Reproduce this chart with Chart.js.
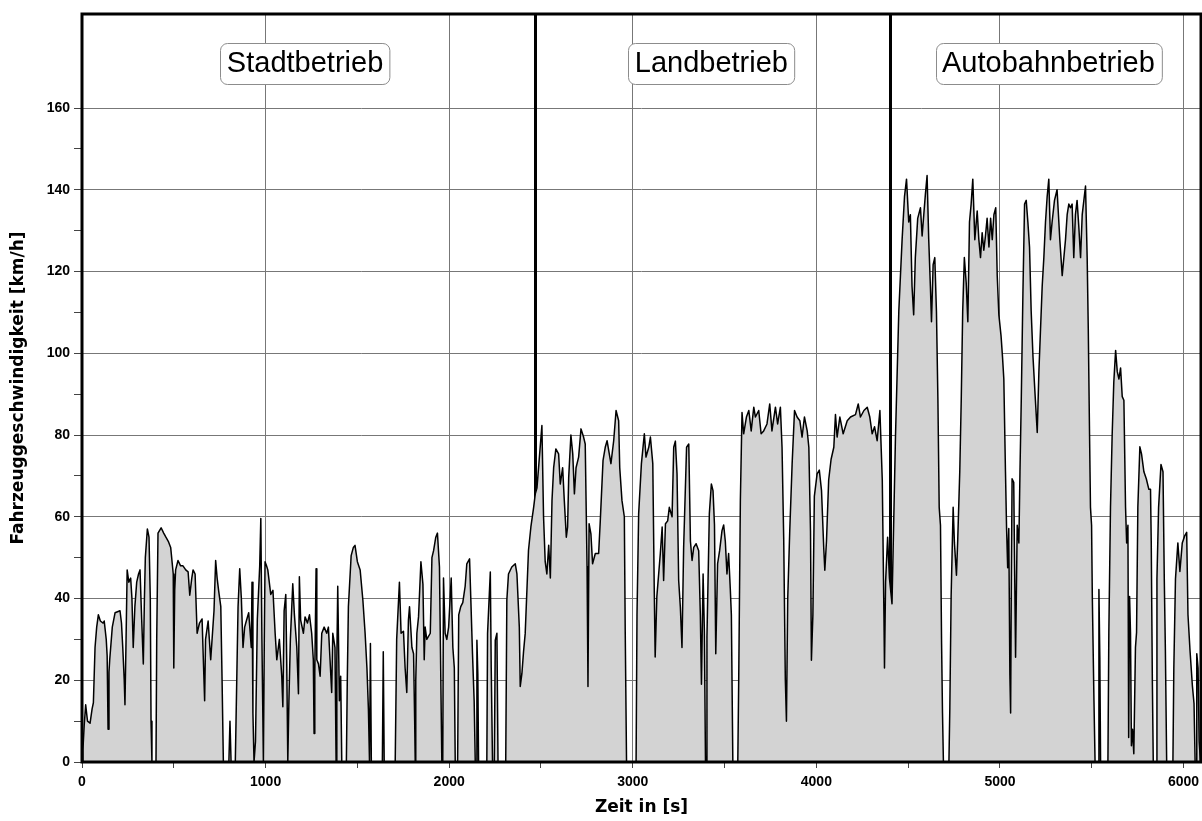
<!DOCTYPE html>
<html>
<head>
<meta charset="utf-8">
<script src="https://cdn.jsdelivr.net/npm/chart.js@4.4.0/dist/chart.umd.min.js"></script>
<style>
  body { margin: 0; background: #fff; }
  #wrap { width: 1202px; height: 821px; }
</style>
</head>
<body>
<div id="wrap"><canvas id="speedChart" width="1202" height="821"></canvas></div>
<script>
// speed trace (time in s, speed in km/h)
var stadtTime  = [0,5,12,20,30,44,55,62,71,80,89,100,115,121,132,137,142,147,151,165,180,207,215,222,230,234,240,246,255,265,272,279,288,298,308,316,325,334,340,345,356,365,372,376,381,403,407,414,431,445,457,470,483,497,500,505,510,523,537,550,565,578,587,598,605,616,627,640,654,668,673,687,701,710,719,728,736,744,756,763,770,800,806,812,835,839,850,859,868,877,886,895,908,922,926,931,937,945,955,968,974,980,988,993,997,1005,1012,1028,1040,1052,1061,1075,1088,1094,1101,1110,1115,1121,1127,1135,1148,1157,1170,1179,1184,1191,1206,1215,1228,1239,1251,1260,1264,1268,1275,1279,1288,1297,1306,1319,1333,1342,1351,1360,1366,1378,1384,1388,1393,1402,1409,1415,1440,1445,1451,1466,1478,1487,1500,1515,1530,1542,1552,1560,1566,1571,1576,1636,1641,1646,1706,1714,1729,1738,1751,1760,1769,1778,1784,1797,1806,1812,1815,1818,1824,1833,1846,1857,1864,1869,1878,1897,1906,1915,1927,1936,1947,1955,1960,1965,1969,1978,1987,1997,2011,2020,2028,2033,2046,2052,2063,2074,2087,2096,2111,2118,2127,2136,2142,2148,2151,2156,2160,2205,2209,2224,2229,2236,2246,2251,2260,2266,2308,2314,2323,2341,2360,2369,2382,2387,2396,2405,2414,2432,2445,2460,2469];
var stadtSpeed = [0,3,9,14,10,9.5,13,14.5,28,33,36,34.5,34,34.5,30,26,8,22,25,33,36.5,37,34,28,20,14,30,47,44,45,40,28,38,44,46,47,35,24,40,50,57,55,40,10,0,0,30,56,57.3,56,55,54,52.5,46,23,42,47,49.3,48,48,47,46.5,40.8,45,47,46,31.5,34,35,15,30,34.5,25,31,37,49.3,45,42,38,20,0,0,10,0,0,10,38,47.3,40,28,33,34.5,36.5,28,44,12,0,5,35,48,59.6,30,0,30,49,48,47,41,42,31.5,25,30,21,13.5,37,41,25,0,15,30,43.6,36,28,16.7,45.3,34.7,31.5,35.5,34,36,31.5,25,7,21.7,47.3,25,24,21,31.5,33,31.5,33,25,17,31.5,28,0,25,43,15,21,0,0,20,38,50.5,52.5,53,49,47,39.5,31.5,23,13,0,29,0,0,27,0,0,30,44,31.5,32,23,17,34.7,38,28,26.5,10,0,20,31.5,35.5,49,43.5,25,33,30,31.5,50,51.7,55,56,47.7,18,0,0,45,31.5,30,33,45,28,23,0,0,36,38,39,43,48.5,49.7,39.6,26.5,15,0,0,29.8,21.6,0,0,31.4,46.5,23,0,0,29.8,31.5,0,0,39.6,46,47.7,48.5,46,33,18.5,21.6,27,31.4,51.8,57.5,62.3,65.6];

var landTime  = [2478,2490,2505,2514,2523,2532,2542,2551,2560,2569,2581,2596,2605,2618,2627,2638,2645,2651,2663,2673,2682,2691,2705,2718,2732,2741,2751,2756,2762,2772,2781,2796,2814,2823,2838,2850,2860,2872,2881,2896,2909,2923,2929,2941,2954,2959,2966,3018,3023,3032,3047,3063,3072,3087,3096,3109,3117,3122,3131,3150,3160,3168,3178,3190,3199,3214,3223,3232,3241,3250,3259,3268,3277,3293,3305,3314,3323,3332,3345,3359,3368,3374,3383,3390,3396,3402,3404,3417,3428,3437,3445,3452,3462,3473,3486,3495,3504,3513,3522,3531,3537,3545,3572,3577,3586,3595,3604,3619,3632,3645,3659,3668,3686,3699,3713,3731,3746,3758,3777,3789,3804,3813,3822,3831,3837,3844,3855,3868,3881,3895,3910,3922,3935,3950,3959,3968,3973,3981,3989,4004,4016,4028,4040,4046,4055,4067,4080,4095,4104,4113,4128,4146,4168,4186,4213,4228,4240,4259,4277,4291,4304,4317,4331,4346,4359,4368,4371,4377,4388,4398];
var landSpeed = [67,73.8,82.3,60,49,46,53,45,64,72,76.6,75.4,68,72,64,55,57.5,69.7,80,75.4,65.6,72,74.6,81.5,79.5,77.8,47.7,18.5,58.3,55.8,48.5,51,51,59,73.8,77,78.6,75.4,73,78.6,86,83.5,72,64,60,31.4,0,0,36,60.7,73,80.3,74.6,77,79.5,73,42,25.7,40.4,51,57.5,44.4,58.3,59,62.3,60,77,78.5,70.5,44.4,38,28,52.5,77,77.8,54,49.3,52.5,53.4,51.7,36,19,46,32,0,0,30.6,60.7,68,66.4,58,26.5,48.5,51.7,56.6,58,54,46,51,42.5,36,0,0,20,64,85.5,80.3,84.4,86,81,86.8,84.4,86,80.3,81,82.7,87.6,81,86.8,82.7,86.8,77,55,20,10,40,56.6,73,86,84.4,83.5,79.5,84.4,81,77,56.6,24.9,36,65,70.5,71.4,66.4,52.5,46.9,54,69,74,77,85,79.5,84.4,80.3,83.5,84.4,85,87.6,84.4,86,86.8,84.4,80.3,82,78.6,86,69,36,23,44,55,45];

var autobahnTime  = [4412,4418,4431,4449,4467,4480,4491,4503,4512,4521,4530,4539,4552,4567,4576,4585,4594,4603,4612,4621,4627,4636,4645,4654,4662,4669,4676,4682,4687,4692,4722,4727,4734,4745,4752,4763,4770,4781,4789,4797,4806,4816,4825,4834,4843,4852,4863,4876,4885,4894,4903,4912,4921,4930,4940,4949,4958,4967,4977,4985,4994,5006,5014,5021,5030,5036,5042,5048,5054,5058,5062,5066,5075,5085,5094,5103,5109,5116,5125,5134,5143,5152,5161,5170,5180,5193,5203,5212,5221,5230,5239,5248,5257,5266,5275,5284,5297,5311,5326,5339,5348,5357,5366,5375,5384,5393,5402,5411,5420,5429,5439,5448,5457,5466,5475,5481,5488,5493,5499,5503,5512,5518,5535,5539,5544,5548,5588,5593,5602,5611,5620,5630,5639,5648,5657,5666,5675,5684,5690,5697,5701,5706,5711,5716,5722,5729,5738,5744,5751,5762,5771,5784,5797,5811,5820,5824,5830,5835,5850,5855,5864,5877,5888,5895,5901,5908,5942,5947,5956,5969,5980,5993,6006,6017,6024,6035,6048,6057,6063,6068,6072,6079,6085,6092];
var autobahnSpeed = [38.7,51.8,79.8,110.3,127.8,138.3,142.6,132.1,133.9,116.4,109.4,123.4,133,135.6,128.7,133.9,139,143.5,127.8,116.4,107.7,121.7,123.4,110.3,88.5,62.3,57.9,29,12,0,0,13.4,40.5,62.3,53.6,45.7,54.4,71,88.5,110.3,123.4,117.3,107.7,132.1,136.5,142.6,127.8,134.8,127.8,123.4,129.5,125.2,128.7,133,126,133,127.8,133.9,135.6,119,109.4,104.2,99,93.7,71,57.1,47.5,57.1,21.3,12,45,69.3,68.4,25.6,57.9,53.6,71,88.5,114.7,136.5,137.4,132.1,126,110.3,99,88.5,80.6,95.5,106,116.4,123.4,132.1,138.3,142.6,127.8,132.1,137.4,140,127.8,119,123.4,127.8,133.9,136.5,135.6,136.5,123.4,133.9,137.4,131.3,123.4,133.9,137.4,140.9,123.4,106,79.8,62.3,57.9,40.5,15,0,0,42.2,25.6,0,0,31.7,62.3,79.8,92.9,100.7,95.5,93.7,96.4,89.4,88.5,62.3,53.6,57.9,6,40.5,31.7,4,8,2,28,31.7,62.3,77.1,75.4,71,69.3,66.7,66.7,53.6,20,0,0,44.8,62.3,72.8,71,44.8,27.4,0,0,23,44.8,53.6,46.6,53.6,55.3,56.2,36.1,27.4,18.7,14.3,0,0,26.5,23,5,0];

// axis ticks (minor ticks carry no label)
var xTicks = [0,500,1000,1500,2000,2500,3000,3500,4000,4500,5000,5500,6000];
var xLabels = ['0','','1000','','2000','','3000','','4000','','5000','','6000'];
var yTicks = [0,10,20,30,40,50,60,70,80,90,100,110,120,130,140,150,160];
var yLabels = ['0','','20','','40','','60','','80','','100','','120','','140','','160'];

// section borders and labels
var sectionBounds = [2470, 4400];
var sectionNames  = ['Stadtbetrieb', 'Landbetrieb', 'Autobahnbetrieb'];
var sectionCenter = [1215, 3428, 5264];
var labelLevel = 171;

var xMax = 6095, yMax = 183;

function makePoints() {
  var pts = [];
  var allT = stadtTime.concat(landTime, autobahnTime);
  var allV = stadtSpeed.concat(landSpeed, autobahnSpeed);
  for (var i = 0; i < allT.length; i++) {
    pts.push({x: allT[i], y: allV[i]});
  }
  return pts;
}

function isLabelled(c, labels) {
  return c.index !== undefined && labels[c.index] !== '';
}

var sectionPlugin = {
  id: 'sections',
  beforeDatasetsDraw: function(chart) {
    var ctx = chart.ctx, a = chart.chartArea, x = chart.scales.x;
    ctx.save();
    ctx.strokeStyle = '#000';
    ctx.lineWidth = 3;
    sectionBounds.forEach(function(t) {
      var px = Math.round(x.getPixelForValue(t)) + 0.5;
      ctx.beginPath();
      ctx.moveTo(px, a.top);
      ctx.lineTo(px, a.bottom);
      ctx.stroke();
    });
    ctx.restore();
  },
  afterDraw: function(chart) {
    var ctx = chart.ctx, a = chart.chartArea, x = chart.scales.x, y = chart.scales.y;
    ctx.save();
    // frame
    ctx.strokeStyle = '#000';
    ctx.lineWidth = 3;
    ctx.strokeRect(a.left, a.top, a.right - a.left, a.bottom - a.top);
    // boxed section names
    ctx.font = '29px "Liberation Sans", Arial, sans-serif';
    ctx.textAlign = 'center';
    ctx.textBaseline = 'middle';
    for (var i = 0; i < sectionNames.length; i++) {
      var cx = x.getPixelForValue(sectionCenter[i]);
      var cy = y.getPixelForValue(labelLevel);
      var w = ctx.measureText(sectionNames[i]).width + 13;
      var h = 41;
      ctx.beginPath();
      ctx.roundRect(Math.round(cx - w / 2) + 0.5, Math.round(cy - h / 2) + 0.5, w, h, 7);
      ctx.fillStyle = '#fff';
      ctx.fill();
      ctx.strokeStyle = '#8c8c8c';
      ctx.lineWidth = 1;
      ctx.stroke();
      ctx.fillStyle = '#000';
      ctx.fillText(sectionNames[i], cx, cy + 1);
    }
    ctx.restore();
  }
};

var tickFont = {family: '"Liberation Sans", Arial, sans-serif', size: 14, weight: 'bold'};
var titleFont = {family: '"DejaVu Sans", sans-serif', size: 17, weight: 'bold'};

var ctx = document.getElementById('speedChart').getContext('2d');
var myChart = new Chart(ctx, {
  type: 'line',
  data: {
    datasets: [{
      data: makePoints(),
      borderColor: '#000',
      borderWidth: 1.5,
      borderJoinStyle: 'round',
      backgroundColor: '#d3d3d3',
      fill: 'origin',
      pointRadius: 0,
      tension: 0
    }]
  },
  options: {
    responsive: false,
    animation: false,
    layout: { padding: { top: 14, right: 1, left: 0, bottom: 0 } },
    plugins: { legend: { display: false }, tooltip: { enabled: false } },
    scales: {
      x: {
        type: 'linear',
        min: 0,
        max: xMax,
        z: 1,
        border: { display: false },
        afterBuildTicks: function(s) { s.ticks = xTicks.map(function(v) { return {value: v}; }); },
        afterFit: function(s) { s.height = 59; s.paddingLeft = 0; s.paddingRight = 0; },
        grid: {
          color: function(c) { return isLabelled(c, xLabels) ? '#777' : 'rgba(0,0,0,0)'; },
          tickColor: '#444',
          tickLength: 6,
          lineWidth: 1
        },
        ticks: {
          autoSkip: false,
          maxRotation: 0,
          padding: 6,
          color: '#000',
          font: tickFont,
          callback: function(v, i) { return xLabels[i]; }
        },
        title: { display: true, text: 'Zeit in [s]', color: '#000', font: titleFont, padding: { top: 0, bottom: 3 } }
      },
      y: {
        min: 0,
        max: yMax,
        z: 1,
        border: { display: false },
        afterBuildTicks: function(s) { s.ticks = yTicks.map(function(v) { return {value: v}; }); },
        afterFit: function(s) { s.width = 82; },
        grid: {
          color: function(c) { return isLabelled(c, yLabels) ? '#777' : 'rgba(0,0,0,0)'; },
          tickColor: '#444',
          tickLength: 8,
          lineWidth: 1
        },
        ticks: {
          autoSkip: false,
          padding: 4,
          color: '#000',
          font: tickFont,
          callback: function(v, i) { return yLabels[i]; }
        },
        title: { display: true, text: 'Fahrzeuggeschwindigkeit [km/h]', color: '#000', font: titleFont, padding: { top: 8, bottom: 0 } }
      }
    }
  },
  plugins: [sectionPlugin]
});
</script>
</body>
</html>
